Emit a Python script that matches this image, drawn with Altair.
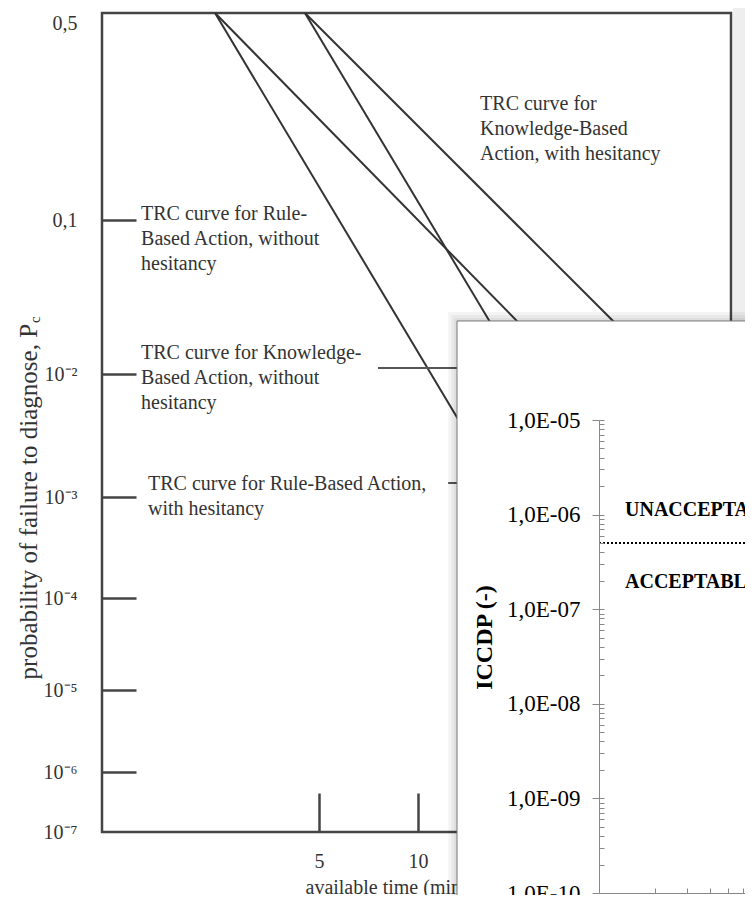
import altair as alt
import pandas as pd

# ---------------- values ----------------
# main chart: time reliability correlation (TRC) curves, straight lines on the paper
curve_names = [
    "Rule-Based, without hesitancy",
    "Knowledge-Based, without hesitancy",
    "Rule-Based, with hesitancy",
    "Knowledge-Based, with hesitancy",
]
curve_start_time = [2.415, 2.415, 4.53, 4.53]
curve_start_prob = [0.5, 0.5, 0.5, 0.5]
curve_end_time = [16.5, 27.0, 20.4, 50.7]
curve_end_prob = [1.6e-3, 1.144e-2, 1.03e-2, 1.27e-2]

y_tick_values = [0.5, 0.1, 1e-2, 1e-3, 1e-4, 1e-5, 1e-6, 1e-7]
y_tick_labels = ["0,5", "0,1", "10⁻²", "10⁻³", "10⁻⁴", "10⁻⁵", "10⁻⁶", "10⁻⁷"]
x_tick_values = [5, 10]
x_tick_labels = ["5", "10"]

y_title_text = "probability of failure to diagnose, P"
y_title_sub = "c"
y_title_time = [0.657]
y_title_prob = [0.02113]

label_texts = [
    "TRC curve for Rule-\nBased Action, without\nhesitancy",
    "TRC curve for Knowledge-\nBased Action, without\nhesitancy",
    "TRC curve for Rule-Based Action,\nwith hesitancy",
    "TRC curve for\nKnowledge-Based\nAction, with hesitancy",
]
label_time = [1.439, 1.439, 1.511, 15.43]
label_prob = [0.1133, 0.0159, 1.54e-3, 0.2664]

leader_start_time = [7.556, 12.34]
leader_end_time = [14.39, 14.39]
leader_prob = [0.01094, 1.30e-3]

# the pasted inset panel and its soft drop shadow (corner)
inset_box_time = [13.13, 400.0]
inset_box_prob = [0.0221, 1e-9]
inset_shadow_time = [12.34, 12.60, 12.86]
inset_shadow_prob = [0.0253, 0.0242, 0.0231]
# grey page strip right of the main figure
strip_time = [90.6, 400.0]
strip_prob = [0.7, 1e-9]

# inset chart: ICCDP
iccdp_tick_values = [1e-5, 1e-6, 1e-7, 1e-8, 1e-9, 1e-10]
iccdp_tick_labels = ["1,0E-05", "1,0E-06", "1,0E-07", "1,0E-08", "1,0E-09", "1,0E-10"]
iccdp_minor_values = [m * 10.0 ** k for k in range(-10, -5) for m in range(1, 10)] + [1e-5]
acceptance_limit = 5e-7
region_labels = ["UNACCEPTABLE", "ACCEPTABLE"]
region_time = [1.382, 1.382]
region_iccdp = [1.12e-6, 1.94e-7]
inset_time_ticks = [2, 3, 4, 5, 6, 7, 8, 9]


def label_expr(values, labels):
    expr = f"'{labels[-1]}'"
    for v, lab in reversed(list(zip(values[:-1], labels[:-1]))):
        expr = f"abs(log(datum.value) - log({v})) < 0.01 ? '{lab}' : " + expr
    return expr


# ---------------- layout / style ----------------
W, H = 629, 819
FONT = "Liberation Serif"
FRAME = "#444444"
INK = "#333333"
INSET_AXIS = "#888888"

x_main = alt.Scale(type="log", domain=[1.095, 89.3], range=[0, W], nice=False)
y_main = alt.Scale(type="log", domain=y_tick_values,
                   range=[0, 207, 361, 484, 585, 677, 759, 819], nice=False)
x_inset = alt.Scale(type="log", domain=[1, 10], range=[497, 682], nice=False)
y_inset = alt.Scale(type="log", domain=[1e-10, 1e-5], range=[880, 407], nice=False)

strip_df = pd.DataFrame({"t0": [strip_time[0]], "t1": [strip_time[1]],
                         "p0": [strip_prob[0]], "p1": [strip_prob[1]]})
strip = alt.Chart(strip_df).mark_rect(fill="#eeeeee").encode(
    x=alt.X("t0:Q", scale=x_main, axis=None),
    x2="t1:Q",
    y=alt.Y("p0:Q", scale=y_main, axis=None),
    y2="p1:Q",
)

curves_df = pd.DataFrame({
    "curve": curve_names * 2,
    "time": curve_start_time + curve_end_time,
    "prob": curve_start_prob + curve_end_prob,
})

lines = alt.Chart(curves_df).mark_line(color=INK, strokeWidth=2).encode(
    x=alt.X("time:Q", scale=x_main, axis=alt.Axis(
        orient="bottom", values=x_tick_values,
        labelExpr=label_expr(x_tick_values, x_tick_labels),
        ticks=False, tickSize=0, domain=False, grid=False,
        labelFont=FONT, labelFontSize=20, labelColor=INK, labelPadding=19,
        labelBaseline="top", labelFlush=False, labelOverlap=False,
        title="available time (minutes)", titleFont=FONT, titleFontSize=20,
        titleFontWeight="normal", titleColor=INK, titleX=203, titleY=55,
        titleAlign="left", titleBaseline="middle")),
    y=alt.Y("prob:Q", scale=y_main, axis=alt.Axis(
        orient="left", values=y_tick_values,
        labelExpr=label_expr(y_tick_values, y_tick_labels),
        ticks=False, tickSize=0, domain=False, grid=False,
        labelFont=FONT, labelFontSize=20, labelColor=INK, labelPadding=25,
        labelBaseline={"condition": {"test": "datum.value > 0.3", "value": "top"},
                       "value": "middle"},
        labelFlush=False, labelOverlap=False, title=None)),
    detail="curve:N",
)

ytitle_df = pd.DataFrame({"text": [y_title_text], "sub": [y_title_sub],
                          "time": y_title_time, "prob": y_title_prob})
ytitle = alt.Chart(ytitle_df).mark_text(
    angle=270, align="right", baseline="middle", font=FONT, fontSize=25, color=INK,
).encode(
    x=alt.X("time:Q", scale=x_main, axis=None),
    y=alt.Y("prob:Q", scale=y_main, axis=None),
    text="text:N",
)
ytitle_sub = alt.Chart(ytitle_df).mark_text(
    angle=270, align="left", baseline="middle", font=FONT, fontSize=15, color=INK,
    dx=1, dy=6,
).encode(
    x=alt.X("time:Q", scale=x_main, axis=None),
    y=alt.Y("prob:Q", scale=y_main, axis=None),
    text="sub:N",
)

labels_df = pd.DataFrame({"text": label_texts, "time": label_time, "prob": label_prob})
annotations = alt.Chart(labels_df).mark_text(
    align="left", baseline="top", font=FONT, fontSize=20, color=INK,
    lineBreak="\n", lineHeight=25,
).encode(
    x=alt.X("time:Q", scale=x_main, axis=alt.Axis(
        orient="top", offset=-H, values=x_tick_values, labels=False,
        tickSize=39, tickWidth=2.5, tickColor=FRAME, domain=False, grid=False,
        title=None)),
    y=alt.Y("prob:Q", scale=y_main, axis=alt.Axis(
        orient="right", offset=-W, values=y_tick_values[1:-1], labels=False,
        tickSize=34, tickWidth=2.5, tickColor=FRAME, domain=False, grid=False,
        title=None)),
    text="text:N",
)

leaders_df = pd.DataFrame({"t0": leader_start_time, "t1": leader_end_time, "prob": leader_prob})
leaders = alt.Chart(leaders_df).mark_rule(color="#555555", strokeWidth=2).encode(
    x=alt.X("t0:Q", scale=x_main, axis=None),
    x2="t1:Q",
    y=alt.Y("prob:Q", scale=y_main, axis=None),
)

shadow_df = pd.DataFrame({"t0": inset_shadow_time, "t1": [inset_box_time[1]] * 3,
                          "p0": inset_shadow_prob, "p1": [inset_box_prob[1]] * 3})
shadow = alt.Chart(shadow_df).mark_rect(fill="black", fillOpacity=0.045).encode(
    x=alt.X("t0:Q", scale=x_main, axis=None),
    x2="t1:Q",
    y=alt.Y("p0:Q", scale=y_main, axis=None),
    y2="p1:Q",
)

box_df = pd.DataFrame({"t0": [inset_box_time[0]], "t1": [inset_box_time[1]],
                       "p0": [inset_box_prob[0]], "p1": [inset_box_prob[1]]})
box = alt.Chart(box_df).mark_rect(fill="white", stroke="#777777", strokeWidth=1).encode(
    x=alt.X("t0:Q", scale=x_main, axis=None),
    x2="t1:Q",
    y=alt.Y("p0:Q", scale=y_main, axis=None),
    y2="p1:Q",
)

limit_df = pd.DataFrame({"t0": [1.0], "t1": [10.0], "iccdp": [acceptance_limit]})
limit = alt.Chart(limit_df).mark_rule(color="black", strokeWidth=2, strokeDash=[2, 2]).encode(
    x=alt.X("t0:Q", scale=x_inset, axis=None),
    x2="t1:Q",
    y=alt.Y("iccdp:Q", scale=y_inset, axis=alt.Axis(
        orient="right", offset=-(W - 497), values=iccdp_minor_values, labels=False,
        tickSize=5, tickWidth=1, tickColor=INSET_AXIS, domain=False, grid=False,
        title=None, zindex=1)),
)

regions_df = pd.DataFrame({"label": region_labels, "time": region_time, "iccdp": region_iccdp})
regions = alt.Chart(regions_df).mark_text(
    align="left", baseline="middle", font=FONT, fontSize=20, fontWeight="bold", color="black",
).encode(
    x=alt.X("time:Q", scale=x_inset, axis=alt.Axis(
        orient="top", offset=-880, values=inset_time_ticks, labels=False,
        tickSize=5, tickWidth=1, tickColor=INSET_AXIS, domainColor=INSET_AXIS,
        domainWidth=1, grid=False, title=None, zindex=1)),
    y=alt.Y("iccdp:Q", scale=y_inset, axis=alt.Axis(
        orient="left", offset=-497, values=iccdp_tick_values,
        labelExpr=label_expr(iccdp_tick_values, iccdp_tick_labels),
        tickSize=7, tickWidth=1, tickColor=INSET_AXIS, domainColor=INSET_AXIS,
        domainWidth=1, labelFont=FONT, labelFontSize=23, labelColor="black",
        labelPadding=12, labelFlush=False, labelOverlap=False, grid=False,
        title="ICCDP (-)", titleFont=FONT, titleFontSize=24, titleFontWeight="bold",
        titleColor="black", titleX=-115, titleY=624, titleAngle=270,
        titleAlign="center", titleBaseline="middle", zindex=1)),
    text="label:N",
)

chart = alt.layer(
    strip, lines, ytitle, ytitle_sub, annotations, leaders, shadow, box, limit, regions
).resolve_scale(
    x="independent", y="independent"
).properties(
    width=W, height=H,
    padding={"left": 94, "top": 5, "right": 14, "bottom": 63},
    autosize=alt.AutoSizeParams(type="none"),
    background="white",
).configure_view(stroke=FRAME, strokeWidth=2.5, fill="white")

chart.save("out.html", embed_options={"renderer": "svg", "actions": False})
